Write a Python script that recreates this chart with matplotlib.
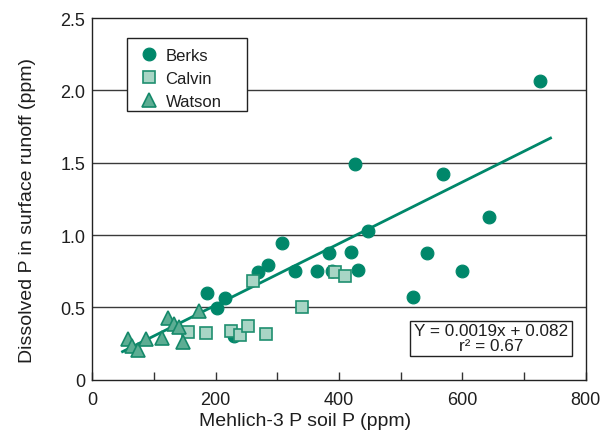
import matplotlib
matplotlib.use("Agg")
import matplotlib.pyplot as plt
from matplotlib.patches import Rectangle
from matplotlib.ticker import MultipleLocator

plt.rcParams['font.family'] = ['Liberation Sans', 'DejaVu Sans']

# Berks soil (circles)
berks_x = [185.5, 201.7, 215.6, 229.0, 269.0, 284.5, 308.0, 328.6, 363.8, 383.0, 388.5,
           420.0, 426.0, 431.3, 446.5, 519.4, 543.0, 569.0, 598.9, 643.6, 726.3]
berks_y = [0.600, 0.494, 0.563, 0.300, 0.743, 0.795, 0.947, 0.754, 0.754, 0.874, 0.754,
           0.885, 1.490, 0.761, 1.028, 0.572, 0.874, 1.420, 0.750, 1.125, 2.064]

# Calvin soil (squares)
calvin_x = [154.6, 183.8, 225.5, 239.5, 253.0, 261.0, 281.0, 340.0, 394.0, 410.3]
calvin_y = [0.332, 0.326, 0.339, 0.309, 0.369, 0.680, 0.314, 0.502, 0.745, 0.715]

# Watson soil (triangles)
watson_x = [58.4, 64.9, 74.6, 87.0, 113.5, 123.0, 133.0, 140.0, 147.5, 173.5]
watson_y = [0.281, 0.235, 0.207, 0.281, 0.286, 0.430, 0.385, 0.365, 0.263, 0.473]

# fitted line as drawn
fit_x = [49, 743]
fit_y = [0.194, 1.671]
eq_text = "Y = 0.0019x + 0.082\nr² = 0.67"

green = '#00876a'
txt = '#1e1e1e'
edge = '#222222'

fig = plt.figure(figsize=(6.01, 4.31), dpi=100)
ax = fig.add_axes([0.1536, 0.1167, 0.8209, 0.8388])

for y in [0.5, 1.0, 1.5, 2.0]:
    ax.axhline(y, color='#3a3a3a', lw=1.0, zorder=1)

ax.plot(fit_x, fit_y, color=green, lw=2.0, zorder=2)

ax.plot(berks_x, berks_y, 'o', ms=9.2, mfc=green, mec=green, mew=0.8,
        ls='none', label='Berks', zorder=3)
ax.plot(calvin_x, calvin_y, 's', ms=9.2, mfc='#a8d5c5', mec='#1f8f6f', mew=1.2,
        ls='none', label='Calvin', zorder=4)
ax.plot(watson_x, watson_y, '^', ms=10, mfc='#5cad93', mec='#15896a', mew=1.2,
        ls='none', label='Watson', zorder=5)

ax.set_xlim(0, 800)
ax.set_ylim(0, 2.5)
ax.xaxis.set_major_locator(MultipleLocator(200))
ax.xaxis.set_minor_locator(MultipleLocator(100))
ax.tick_params(axis='x', which='both', direction='in', length=6, width=1,
               color='#333333', labelsize=13, labelcolor=txt, pad=8)
ax.set_yticks([0, 0.5, 1.0, 1.5, 2.0, 2.5])
ax.set_yticklabels(['0', '0.5', '1.0', '1.5', '2.0', '2.5'])
ax.tick_params(axis='y', length=0, labelsize=13, labelcolor=txt, pad=5)

for s in ax.spines.values():
    s.set_color(edge)
    s.set_linewidth(1.0)

ax.set_xlabel('Mehlich-3 P soil P (ppm)', fontsize=14, color=txt)
ax.xaxis.set_label_coords(0.432, -0.113)
ax.xaxis.label.set_va('center')
ax.set_ylabel('Dissolved P in surface runoff (ppm)', fontsize=14, color=txt)
ax.yaxis.set_label_coords(-0.132, 0.471)
ax.yaxis.label.set_va('center')

# legend box
ax.add_patch(Rectangle((0.071, 0.744), 0.242, 0.200, transform=ax.transAxes,
                       fc='white', ec=edge, lw=1.0, zorder=6))
leg = ax.legend(loc='upper left', bbox_to_anchor=(0.079, 0.944), borderaxespad=0,
                frameon=False, fontsize=12, handlelength=1.0, handletextpad=0.5,
                labelspacing=0.49, borderpad=0.55)
leg.set_zorder(7)
for t in leg.get_texts():
    t.set_color(txt)

# equation box
ax.add_patch(Rectangle((515, 0.166), 263, 0.242, fc='white', ec=edge, lw=1.0, zorder=6))
ax.text(646.5, 0.287, eq_text, ha='center', va='center', multialignment='center',
        fontsize=12.3, color=txt, linespacing=0.95, zorder=7)

fig.savefig('out.png', dpi=100)
